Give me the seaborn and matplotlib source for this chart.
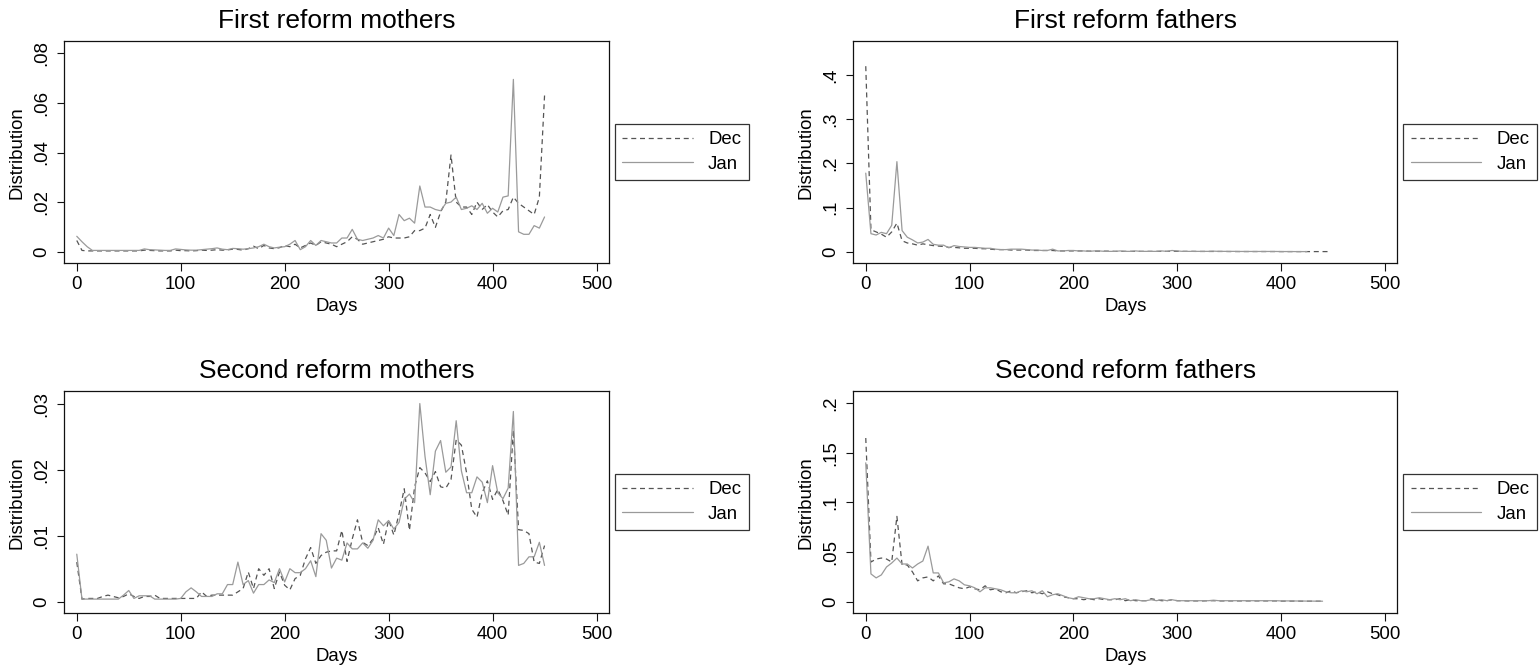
import numpy as np
import pandas as pd
import seaborn as sns
import matplotlib.pyplot as plt

# ---- data (5-day bins) ----
step = 5

m1_jan = [0.0062, 0.004, 0.002, 0.0005, 0.0005, 0.0005, 0.0005, 0.0005, 0.0005, 0.0005,
          0.0005, 0.0005, 0.0005, 0.0011, 0.0008, 0.0007, 0.0006, 0.0005, 0.0005, 0.0011,
          0.0009, 0.0007, 0.0006, 0.0006, 0.0008, 0.001, 0.0012, 0.0015, 0.001, 0.0008,
          0.0013, 0.0012, 0.001, 0.0012, 0.0015, 0.002, 0.003, 0.002, 0.0015, 0.0018,
          0.002, 0.003, 0.0045, 0.0008, 0.002, 0.0045, 0.0025, 0.0045, 0.004, 0.0035,
          0.0035, 0.0055, 0.0055, 0.009, 0.005, 0.0045, 0.005, 0.0055, 0.0065, 0.0055,
          0.0095, 0.0065, 0.015, 0.0125, 0.0135, 0.0115, 0.0265, 0.018, 0.018, 0.017,
          0.0165, 0.0195, 0.02, 0.022, 0.017, 0.0175, 0.0185, 0.017, 0.0195, 0.0155,
          0.0175, 0.016, 0.022, 0.0225, 0.0695, 0.008, 0.007, 0.007, 0.0105, 0.0095,
          0.014]
m1_dec = [0.0045, 0.0005, 0.0003, 0.0003, 0.0003, 0.0003, 0.0003, 0.0003, 0.0003, 0.0003,
          0.0003, 0.0003, 0.0003, 0.0006, 0.0005, 0.0004, 0.0003, 0.0003, 0.0003, 0.0006,
          0.0004, 0.0004, 0.0003, 0.0004, 0.0006, 0.0005, 0.0006, 0.0008, 0.0006, 0.0007,
          0.001, 0.0009, 0.0006, 0.0012, 0.0022, 0.0012, 0.0025, 0.0015, 0.0012, 0.0016,
          0.0025, 0.002, 0.003, 0.0015, 0.0025, 0.0035, 0.0025, 0.004, 0.0035, 0.003,
          0.002, 0.003, 0.004, 0.006, 0.005, 0.003, 0.0035, 0.004, 0.0045, 0.005,
          0.006, 0.0055, 0.0055, 0.0055, 0.006, 0.0085, 0.0085, 0.0095, 0.015, 0.0098,
          0.016, 0.02, 0.039, 0.02, 0.018, 0.018, 0.015, 0.02, 0.017, 0.019,
          0.016, 0.014, 0.0165, 0.017, 0.022, 0.0195, 0.018, 0.0165, 0.015, 0.022,
          0.063]

f1_dec = [0.42, 0.05, 0.045, 0.04, 0.033, 0.045, 0.065, 0.025, 0.02, 0.018,
          0.015, 0.018, 0.016, 0.014, 0.013, 0.012, 0.01, 0.01, 0.009, 0.008,
          0.008, 0.008, 0.007, 0.007, 0.006, 0.005, 0.005, 0.005, 0.004, 0.004,
          0.004, 0.004, 0.003, 0.003, 0.003, 0.003, 0.003, 0.002, 0.002, 0.002,
          0.002, 0.002, 0.002, 0.0015, 0.0015, 0.0015, 0.0015, 0.0015, 0.001, 0.001,
          0.001, 0.001, 0.001, 0.001, 0.001, 0.001, 0.001, 0.001, 0.001, 0.0015,
          0.001, 0.001, 0.001, 0.001, 0.0008, 0.0008, 0.0008, 0.0008, 0.0008, 0.0008,
          0.0006, 0.0006, 0.0006, 0.0006, 0.0006, 0.0006, 0.0006, 0.0006, 0.0006, 0.0006,
          0.0005, 0.0005, 0.0005, 0.0005, 0.0005, 0.0005, 0.0005, 0.0005, 0.0005, 0.0005]
f1_jan = [0.178, 0.041, 0.038, 0.044, 0.041, 0.06, 0.204, 0.048, 0.033, 0.027,
          0.02, 0.022, 0.028, 0.017, 0.015, 0.015, 0.009, 0.014, 0.012, 0.011,
          0.01, 0.01, 0.009, 0.008, 0.008, 0.006, 0.005, 0.005, 0.006, 0.006,
          0.006, 0.005, 0.004, 0.004, 0.003, 0.003, 0.006, 0.002, 0.002, 0.003,
          0.003, 0.002, 0.002, 0.001, 0.002, 0.002, 0.001, 0.001, 0.001, 0.002,
          0.001, 0.001, 0.002, 0.001, 0.001, 0.001, 0.001, 0.002, 0.001, 0.003,
          0.002, 0.001, 0.001, 0.001, 0.001, 0.001, 0.001, 0.0015, 0.001, 0.001,
          0.001, 0.001, 0.0008, 0.0008, 0.0008, 0.0008, 0.0008, 0.0008, 0.0008, 0.0008,
          0.0006, 0.0006, 0.0006, 0.0005, 0.0005, 0.0005]

m2_jan = [0.0072, 0.0004, 0.0004, 0.0004, 0.0004, 0.0004, 0.0004, 0.0004, 0.0004, 0.001,
          0.0017, 0.0005, 0.0009, 0.0009, 0.0009, 0.0004, 0.0004, 0.0004, 0.0004, 0.0004,
          0.0005, 0.0015, 0.0021, 0.0015, 0.0008, 0.0008, 0.0008, 0.0012, 0.0012, 0.0026,
          0.0026, 0.006, 0.0026, 0.0032, 0.0013, 0.0026, 0.0026, 0.0033, 0.0029, 0.005,
          0.003, 0.005, 0.0044, 0.0044, 0.005, 0.0062, 0.0038, 0.0103, 0.0093, 0.0051,
          0.0066, 0.0063, 0.0089, 0.008, 0.008, 0.0089, 0.0081, 0.0093, 0.0124, 0.0115,
          0.0123, 0.011, 0.012, 0.0155, 0.0163, 0.015, 0.030, 0.022, 0.0162, 0.0228,
          0.0244, 0.0196, 0.0204, 0.0274, 0.0198, 0.0165, 0.0165, 0.0189, 0.0181, 0.015,
          0.0206, 0.0165, 0.0156, 0.0172, 0.0288, 0.0055, 0.0058, 0.0068, 0.0068, 0.009,
          0.0055]
m2_dec = [0.006, 0.0004, 0.0005, 0.0005, 0.0005, 0.0008, 0.001, 0.0008, 0.0006, 0.0008,
          0.0012, 0.0008, 0.0005, 0.0008, 0.0008, 0.001, 0.0005, 0.0005, 0.0005, 0.0005,
          0.0005, 0.0005, 0.0005, 0.0005, 0.0015, 0.0008, 0.001, 0.001, 0.001, 0.001,
          0.001, 0.0015, 0.002, 0.0045, 0.002, 0.005, 0.004, 0.005, 0.002, 0.0045,
          0.0025, 0.0018, 0.0035, 0.004, 0.0065, 0.0082, 0.0058, 0.007, 0.0075, 0.0077,
          0.0077, 0.0108, 0.0061, 0.0095, 0.0124, 0.009, 0.0085, 0.0095, 0.0112, 0.0087,
          0.0124, 0.0101, 0.0133, 0.0171, 0.0108, 0.0174, 0.0203, 0.0195, 0.0182, 0.0197,
          0.0174, 0.0172, 0.0185, 0.0245, 0.0237, 0.0195, 0.014, 0.0128, 0.0165, 0.0183,
          0.0155, 0.017, 0.0153, 0.0131, 0.026, 0.0109, 0.0108, 0.0103, 0.006, 0.0058,
          0.0085]

f2_dec = [0.165, 0.04, 0.043, 0.044, 0.043, 0.04, 0.086, 0.037, 0.037, 0.03,
          0.021, 0.024, 0.025, 0.021, 0.026, 0.018, 0.018, 0.016, 0.014, 0.013,
          0.015, 0.013, 0.012, 0.016, 0.012, 0.013, 0.01, 0.009, 0.011, 0.009,
          0.01, 0.011, 0.009, 0.01, 0.008, 0.01, 0.008, 0.007, 0.005, 0.004,
          0.003, 0.003, 0.002, 0.003, 0.002, 0.003, 0.002, 0.002, 0.002, 0.003,
          0.001, 0.002, 0.001, 0.001, 0.001, 0.003, 0.002, 0.001, 0.001, 0.002,
          0.001, 0.001, 0.0008, 0.0008, 0.0008, 0.0008, 0.001, 0.001, 0.0008, 0.0008,
          0.0008, 0.0008, 0.0008, 0.0008, 0.0008, 0.0008, 0.0008, 0.0008, 0.0008, 0.0008,
          0.0006, 0.0006, 0.0006, 0.0006, 0.0005, 0.0005, 0.0005, 0.0005, 0.0005]
f2_jan = [0.14, 0.028, 0.024, 0.027, 0.035, 0.039, 0.044, 0.038, 0.038, 0.034,
          0.038, 0.041, 0.056, 0.029, 0.029, 0.019, 0.02, 0.023, 0.021, 0.017,
          0.016, 0.014, 0.01, 0.014, 0.014, 0.013, 0.012, 0.01, 0.009, 0.009,
          0.011, 0.01, 0.011, 0.008, 0.011, 0.005, 0.007, 0.008, 0.006, 0.004,
          0.003, 0.005, 0.004, 0.003, 0.003, 0.004, 0.003, 0.002, 0.003, 0.002,
          0.003, 0.001, 0.002, 0.001, 0.001, 0.002, 0.001, 0.002, 0.001, 0.002,
          0.001, 0.001, 0.001, 0.001, 0.001, 0.001, 0.001, 0.0015, 0.001, 0.001,
          0.001, 0.001, 0.001, 0.001, 0.001, 0.001, 0.001, 0.001, 0.001, 0.001,
          0.0008, 0.0008, 0.0008, 0.0007, 0.0007, 0.0006, 0.0006, 0.0005, 0.0005]

titles = ["First reform mothers", "First reform fathers",
          "Second reform mothers", "Second reform fathers"]
yticks = [[0, 0.02, 0.04, 0.06, 0.08], [0, 0.1, 0.2, 0.3, 0.4],
          [0, 0.01, 0.02, 0.03], [0, 0.05, 0.1, 0.15, 0.2]]
ytick_labels = [["0", ".02", ".04", ".06", ".08"], ["0", ".1", ".2", ".3", ".4"],
                ["0", ".01", ".02", ".03"], ["0", ".05", ".1", ".15", ".2"]]
ylims = [(-0.0047, 0.085), (-0.026, 0.477), (-0.00175, 0.0319), (-0.0117, 0.2124)]
xticks = [0, 100, 200, 300, 400, 500]
series = [(m1_dec, m1_jan), (f1_dec, f1_jan), (m2_dec, m2_jan), (f2_dec, f2_jan)]

# ---- style ----
sns.set_style("ticks")
plt.rcParams["font.family"] = ["Liberation Sans", "DejaVu Sans"]
plt.rcParams["text.color"] = "black"
plt.rcParams["axes.labelcolor"] = "black"

W, H = 1539, 666
fig = plt.figure(figsize=(W / 100, H / 100), dpi=100)

# axes boxes in pixels: left, top, right, bottom
boxes = [(64.3, 41, 609, 263.3), (853.3, 41, 1397.3, 263.3),
         (64.3, 391, 609, 613.3), (853.3, 391, 1397.3, 613.3)]

dark = "#111111"
for i, (l, t, r, b) in enumerate(boxes):
    ax = fig.add_axes([l / W, (H - b) / H, (r - l) / W, (b - t) / H])
    dec, jan = series[i]
    df_dec = pd.DataFrame({"Days": np.arange(len(dec)) * step, "Distribution": dec})
    df_jan = pd.DataFrame({"Days": np.arange(len(jan)) * step, "Distribution": jan})
    sns.lineplot(data=df_dec, x="Days", y="Distribution", ax=ax, color="#555555",
                 linewidth=0.9, linestyle=(0, (4, 3)), label="Dec")
    sns.lineplot(data=df_jan, x="Days", y="Distribution", ax=ax, color="#9a9a9a",
                 linewidth=0.9, label="Jan")

    ax.set_xlim(-12, 512)
    ax.set_ylim(*ylims[i])
    ax.set_xticks(xticks)
    ax.set_xticklabels([str(v) for v in xticks])
    ax.set_yticks(yticks[i])
    ax.set_yticklabels(ytick_labels[i], rotation=90, va="center")
    ax.tick_params(axis="both", labelsize=13.4, length=5.4, width=0.8,
                   color=dark, labelcolor="black", direction="out")
    ax.tick_params(axis="x", pad=4)
    ax.tick_params(axis="y", pad=5)
    for sp in ax.spines.values():
        sp.set_visible(True)
        sp.set_color(dark)
        sp.set_linewidth(0.9)

    ax.set_title(titles[i], fontsize=19, pad=9.4, color="black")
    ax.set_xlabel("Days", fontsize=13.4, labelpad=3)
    ax.set_ylabel("Distribution", fontsize=13.4, labelpad=5)

    leg = ax.legend(loc="center left", bbox_to_anchor=(1 + 6 / (r - l), 0.5),
                    borderaxespad=0, handlelength=3.8, handletextpad=0.8,
                    borderpad=0.4, labelspacing=0.4, fancybox=False,
                    framealpha=1, edgecolor="#333333", fontsize=13.4)
    leg.get_frame().set_linewidth(0.9)
    for txt in leg.get_texts():
        txt.set_color("black")

fig.savefig("out.png", dpi=100)
